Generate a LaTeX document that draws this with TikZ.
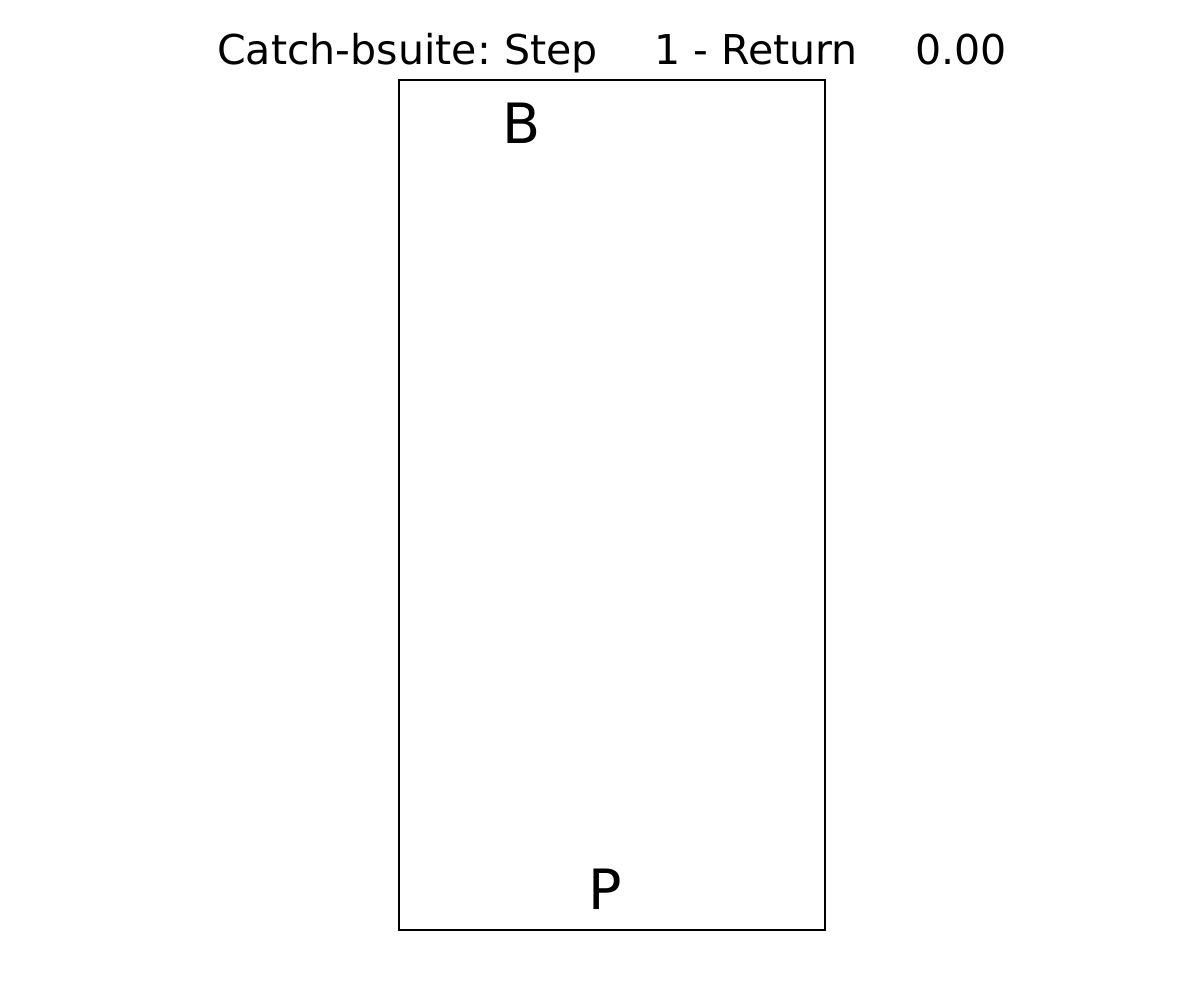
\documentclass[tikz,border=0pt]{standalone}
\usepackage{fontspec}
\setmainfont{DejaVu Sans}
\frenchspacing
\tikzset{
  titletext/.style={anchor=base, inner sep=0pt, font=\fontsize{29.6}{34}\selectfont},
  celltext/.style={anchor=base, inner sep=0pt, font=\fontsize{40}{48}\selectfont},
  boardframe/.style={draw=black, line width=0.8pt}
}
\begin{document}
\begin{tikzpicture}[x=0.72pt,y=-0.72pt]
\useasboundingbox[fill=white] (0,0) rectangle (1200,1000);
\draw[boardframe] (399,80) rectangle (825,930);
\node[titletext] (title) at (612,64.5) {Catch-bsuite: Step\hspace{40.8pt}1 - Return\hspace{41.2pt}0.00};
\node[celltext] (ball) at (521.5,143) {B};
\node[celltext] (paddle) at (605,909) {P};
\end{tikzpicture}
\end{document}
